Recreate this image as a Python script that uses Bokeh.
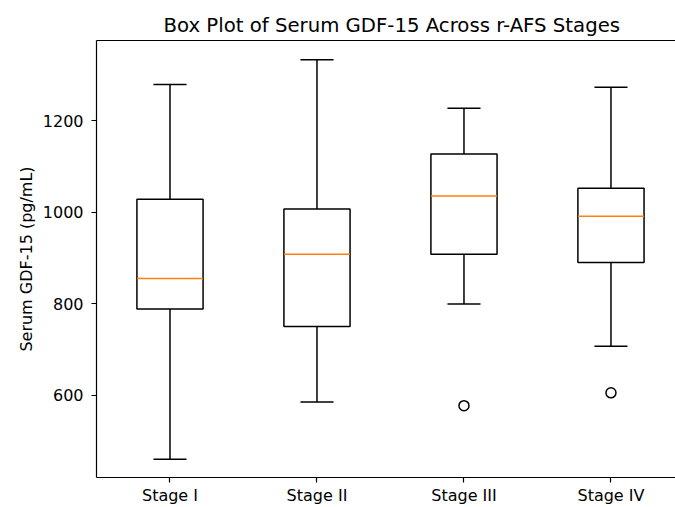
from bokeh.plotting import figure
from bokeh.models import ColumnDataSource, FixedTicker, LinearAxis, Range1d
from bokeh.transform import dodge
from bokeh.embed import file_html
from bokeh.resources import INLINE

stages = ["Stage I", "Stage II", "Stage III", "Stage IV"]
lower_whisker = [460, 585, 799, 707]
q1 = [788, 750, 908, 890]
median = [855, 908, 1035, 991]
q3 = [1028, 1007, 1127, 1052]
upper_whisker = [1279, 1333, 1227, 1273]
outlier_stage = ["Stage III", "Stage IV"]
outlier_value = [577, 605]

pos = list(range(1, len(stages) + 1))
src = ColumnDataSource(dict(x=pos, lo=lower_whisker, q1=q1, med=median, q3=q3, hi=upper_whisker))
out_src = ColumnDataSource(dict(x=[stages.index(s) + 1 for s in outlier_stage], y=outlier_value))

BOX_W = 0.45
FONT = "DejaVu Sans"
p = figure(width=675, height=507, output_backend="svg", toolbar_location=None,
           x_range=Range1d(0.5, 4.439), y_range=Range1d(420, 1375),
           min_border_left=96, min_border_right=0, min_border_top=40, min_border_bottom=29,
           title="Box Plot of Serum GDF-15 Across r-AFS Stages")
p.title.align = "left"
p.title.offset = 67
p.title.text_font = FONT
p.title.text_font_size = "19.7px"
p.title.text_font_style = "normal"
p.title.text_color = "black"
p.title.standoff = 8
p.outline_line_color = None
p.grid.visible = False
p.background_fill_color = "white"
p.border_fill_color = "white"

LW = 1.5
p.segment(x0="x", x1="x", y0="q3", y1="hi", source=src, line_color="black", line_width=LW)
p.segment(x0="x", x1="x", y0="lo", y1="q1", source=src, line_color="black", line_width=LW)
p.segment(x0=dodge("x", -BOX_W / 4), x1=dodge("x", BOX_W / 4), y0="hi", y1="hi", source=src, line_color="black", line_width=LW)
p.segment(x0=dodge("x", -BOX_W / 4), x1=dodge("x", BOX_W / 4), y0="lo", y1="lo", source=src, line_color="black", line_width=LW)
p.vbar(x="x", width=BOX_W, bottom="q1", top="q3", source=src, fill_color="white", line_color="black", line_width=LW)
p.segment(x0=dodge("x", -BOX_W / 2), x1=dodge("x", BOX_W / 2), y0="med", y1="med", source=src, line_color="#ff7f0e", line_width=LW)
p.scatter(x="x", y="y", source=out_src, size=10, fill_color=None, line_color="black", line_width=LW)

for ax in (p.xaxis[0], p.yaxis[0]):
    ax.axis_line_color = "black"
    ax.axis_line_width = 1.2
    ax.major_tick_line_color = "black"
    ax.major_tick_line_width = 1.2
    ax.major_tick_out = 5
    ax.major_tick_in = 0
    ax.minor_tick_line_color = None
    ax.major_label_text_font = FONT
    ax.major_label_text_font_size = "16px"
    ax.major_label_text_color = "black"

p.xaxis[0].major_label_standoff = 3
p.yaxis[0].major_label_standoff = 8
p.xaxis[0].ticker = FixedTicker(ticks=pos)
p.xaxis[0].major_label_overrides = {i: s for i, s in zip(pos, stages)}
p.yaxis[0].ticker = FixedTicker(ticks=[600, 800, 1000, 1200])
p.yaxis[0].axis_label = "Serum GDF-15 (pg/mL)"
p.yaxis[0].axis_label_text_font = FONT
p.yaxis[0].axis_label_text_font_size = "16px"
p.yaxis[0].axis_label_text_font_style = "normal"
p.yaxis[0].axis_label_text_color = "black"
p.yaxis[0].axis_label_standoff = 4

top = LinearAxis(ticker=FixedTicker(ticks=[]), major_label_text_font_size="0px",
                 major_tick_line_color=None, minor_tick_line_color=None,
                 axis_line_color="black", axis_line_width=1.2)
p.add_layout(top, "above")

open("out.html", "w").write(file_html(p, INLINE))
